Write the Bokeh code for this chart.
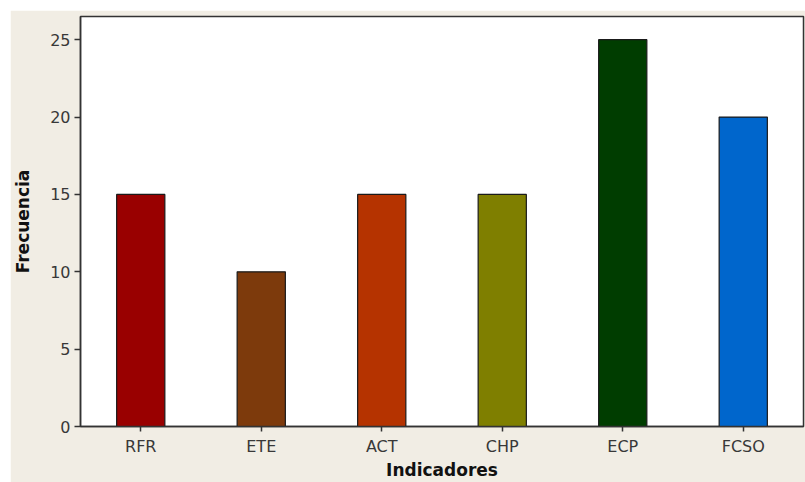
from bokeh.plotting import figure
from bokeh.models import FactorRange, Range1d, ColumnDataSource
from bokeh.embed import file_html
from bokeh.resources import INLINE

categories = ["RFR", "ETE", "ACT", "CHP", "ECP", "FCSO"]
values = [15, 10, 15, 15, 25, 20]
colors = ["#990000", "#7d3a0c", "#b53300", "#7f7f00", "#003d00", "#0066cc"]
y_ticks = [0, 5, 10, 15, 20, 25]

src = ColumnDataSource(dict(cat=categories, val=values, col=colors))

p = figure(width=795, height=472, output_backend="svg", toolbar_location=None,
           x_range=FactorRange(*categories, range_padding=0),
           y_range=Range1d(0, 26.5),
           margin=(10, 0, 0, 10),
           min_border_left=69, min_border_right=2, min_border_top=6, min_border_bottom=52)

p.vbar(x="cat", top="val", width=0.4, source=src, fill_color="col",
       line_color="#1a1a1a", line_width=1.2)

bg = "#f1ede4"
p.background_fill_color = "white"
p.border_fill_color = bg
p.outline_line_color = "#333333"
p.outline_line_width = 1.5
p.xgrid.visible = False
p.ygrid.visible = False

p.yaxis.ticker = y_ticks
p.yaxis.minor_tick_line_color = None
p.yaxis.major_tick_in = 0
p.yaxis.major_tick_out = 6
p.xaxis.major_tick_in = 0
p.xaxis.major_tick_out = 5

for ax in (p.xaxis, p.yaxis):
    ax.axis_line_color = "#333333"
    ax.axis_line_width = 1.5
    ax.major_tick_line_color = "#333333"
    ax.major_tick_line_width = 1.5
    ax.major_label_text_font = "DejaVu Sans"
    ax.major_label_text_font_size = "16px"
    ax.major_label_text_color = "#383838"
    ax.axis_label_text_font = "DejaVu Sans"
    ax.axis_label_text_font_size = "17px"
    ax.axis_label_text_font_style = "bold"
    ax.axis_label_text_color = "#111111"

p.xaxis.axis_label = "Indicadores"
p.yaxis.axis_label = "Frecuencia"
p.xaxis.major_label_standoff = 5
p.xaxis.axis_label_standoff = 1
p.yaxis.major_label_standoff = 4
p.yaxis.axis_label_standoff = 14

open("out.html", "w").write(file_html(p, INLINE))
